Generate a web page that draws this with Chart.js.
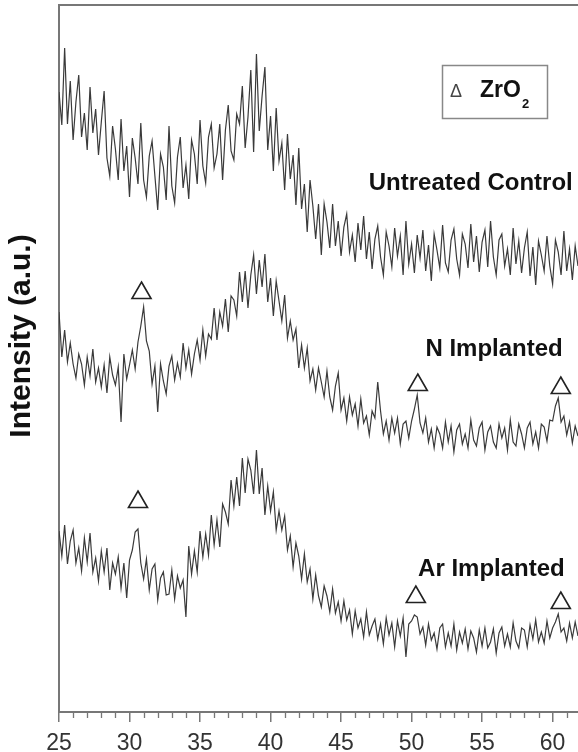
<!DOCTYPE html>
<html>
<head>
<meta charset="utf-8">
<script src="https://cdn.jsdelivr.net/npm/chart.js@4.4.1/dist/chart.umd.min.js"></script>
<style>
  html, body { margin: 0; padding: 0; background: #fff; }
  canvas { display: block; }
</style>
</head>
<body>
<canvas id="xrdChart" width="578" height="752"></canvas>
<script>
// 2-theta sampling grid of the scans (0.2 deg steps, 25 -> 61.8)
const twoTheta = [];
for (let i = 0; i < 185; i++) twoTheta.push(Math.round((25 + i * 0.2) * 10) / 10);

// intensities (a.u.), offsets already included
const untreated = [
  620, 587, 664, 588, 631, 572, 610, 637, 575, 599, 562, 625, 579, 603, 557, 590, 621, 554, 536, 586,
  563, 532, 593, 541, 566, 515, 574, 554, 528, 589, 532, 515, 556, 571, 536, 502, 558, 545, 512, 586,
  526, 509, 555, 575, 524, 547, 513, 572, 558, 528, 592, 546, 529, 575, 588, 544, 558, 588, 532, 582,
  607, 561, 552, 598, 588, 626, 564, 595, 642, 560, 658, 581, 616, 645, 562, 596, 541, 604, 551, 569,
  522, 578, 533, 557, 507, 564, 503, 528, 480, 532, 506, 473, 508, 457, 508, 490, 464, 508, 466, 491,
  456, 485, 498, 460, 477, 450, 489, 462, 496, 453, 480, 443, 473, 486, 455, 437, 480, 466, 445, 484,
  456, 476, 437, 491, 448, 468, 439, 477, 454, 482, 441, 467, 431, 478, 462, 444, 487, 449, 440, 472,
  483, 453, 437, 478, 468, 444, 488, 450, 476, 440, 470, 482, 445, 491, 455, 437, 472, 478, 446, 463,
  437, 484, 448, 471, 439, 464, 480, 436, 465, 427, 471, 457, 441, 476, 446, 428, 472, 460, 437, 481,
  441, 463, 432, 466, 446
];

const nImplanted = [
  400, 355, 382, 350, 369, 348, 334, 358, 348, 327, 355, 336, 363, 330, 344, 325, 347, 319, 355, 337,
  327, 345, 290, 358, 333, 347, 362, 343, 370, 386, 405, 371, 361, 328, 346, 300, 348, 331, 318, 346,
  356, 332, 349, 335, 369, 344, 362, 338, 358, 372, 352, 382, 356, 378, 373, 404, 372, 400, 386, 413,
  380, 416, 412, 396, 440, 410, 441, 404, 437, 457, 418, 452, 425, 458, 410, 434, 396, 431, 411, 391,
  417, 374, 391, 372, 383, 344, 367, 344, 364, 331, 343, 322, 344, 330, 315, 341, 315, 302, 326, 339,
  302, 314, 291, 315, 297, 308, 286, 313, 289, 296, 277, 301, 294, 330, 301, 278, 291, 272, 294, 279,
  294, 268, 288, 291, 274, 291, 303, 317, 289, 279, 294, 270, 283, 264, 285, 278, 264, 290, 270, 286,
  260, 282, 288, 268, 278, 264, 292, 272, 266, 284, 290, 262, 280, 286, 270, 264, 288, 274, 284, 262,
  292, 270, 266, 288, 278, 264, 284, 290, 268, 280, 264, 288, 285, 271, 292, 291, 306, 314, 290, 296,
  277, 290, 269, 286, 276
];

const arImplanted = [
  181, 156, 187, 148, 171, 182, 149, 164, 141, 174, 150, 179, 140, 154, 131, 161, 140, 164, 122, 149,
  138, 155, 124, 149, 114, 152, 162, 180, 183, 149, 133, 153, 122, 143, 148, 112, 134, 140, 117, 118,
  142, 113, 136, 124, 132, 95, 166, 138, 161, 140, 181, 155, 178, 157, 197, 167, 192, 165, 208, 200,
  188, 232, 206, 235, 206, 254, 219, 253, 242, 218, 262, 218, 244, 197, 226, 201, 220, 182, 201, 182,
  196, 162, 176, 145, 169, 156, 133, 158, 130, 143, 113, 137, 116, 105, 126, 116, 100, 123, 99, 110,
  91, 111, 92, 102, 78, 101, 84, 93, 75, 100, 77, 86, 93, 73, 88, 68, 94, 77, 89, 65,
  91, 76, 94, 55, 88, 91, 97, 95, 78, 85, 67, 88, 72, 79, 63, 84, 88, 65, 79, 66,
  88, 62, 80, 69, 83, 63, 81, 74, 60, 82, 66, 84, 64, 70, 83, 59, 79, 85, 66, 78,
  65, 89, 71, 64, 84, 82, 65, 87, 73, 92, 70, 80, 69, 91, 74, 84, 90, 98, 80, 84,
  71, 89, 74, 90, 76
];

// ZrO2 reflections (triangle markers)
const nPeakTheta = [30.85, 50.44, 60.58];
const nPeakLevel = [419, 327, 324];
const arPeakTheta = [30.6, 50.3, 60.58];
const arPeakLevel = [210, 115, 109];

// curve names, right-aligned at these positions
const curveNames = ['Untreated Control', 'N Implanted', 'Ar Implanted'];
const nameTheta = [61.43, 60.72, 60.86];
const nameLevel = [529, 363, 143];

const FONT = '"Liberation Sans", Arial, Helvetica, sans-serif';
const AXIS_GREY = '#777';

const toPoints = (vals) => vals.map((v, i) => ({ x: twoTheta[i], y: v }));
const toMarks = (xs, ys) => xs.map((v, i) => ({ x: v, y: ys[i] }));

const traceStyle = {
  borderColor: '#3a3a3a',
  borderWidth: 1.2,
  pointRadius: 0,
  tension: 0,
  fill: false
};
const markStyle = {
  showLine: false,
  pointStyle: 'triangle',
  pointRadius: 11,
  pointBackgroundColor: '#fff',
  pointBorderColor: '#222',
  pointBorderWidth: 1.6
};

// frame, minor ticks, curve names, y title and the ZrO2 key
const decorations = {
  id: 'decorations',
  afterDraw(chart) {
    const { ctx, chartArea: area, scales: { x, y } } = chart;
    ctx.save();

    ctx.strokeStyle = AXIS_GREY;
    ctx.lineWidth = 2;
    ctx.beginPath();
    ctx.moveTo(area.left - 1, area.top);
    ctx.lineTo(area.right, area.top);
    ctx.stroke();

    ctx.lineWidth = 1.3;
    ctx.beginPath();
    for (let v = 26; v <= 61; v++) {
      if (v % 5 === 0) continue;
      const px = Math.round(x.getPixelForValue(v)) + 0.5;
      ctx.moveTo(px, area.bottom);
      ctx.lineTo(px, area.bottom + 6);
    }
    ctx.stroke();

    ctx.fillStyle = '#111';
    ctx.font = 'bold 24px ' + FONT;
    ctx.textAlign = 'right';
    ctx.textBaseline = 'middle';
    curveNames.forEach((name, i) => {
      ctx.fillText(name, x.getPixelForValue(nameTheta[i]), y.getPixelForValue(nameLevel[i]));
    });

    ctx.save();
    ctx.translate(area.left - 37, 336);
    ctx.rotate(-Math.PI / 2);
    ctx.textAlign = 'center';
    ctx.font = 'bold 30px ' + FONT;
    ctx.fillText('Intensity (a.u.)', 0, 0);
    ctx.restore();

    // key box
    const bx = area.right - 136, by = area.top + 60;
    ctx.strokeStyle = '#888';
    ctx.lineWidth = 1.5;
    ctx.strokeRect(bx + 0.5, by + 0.5, 105, 53);
    ctx.textBaseline = 'alphabetic';
    ctx.textAlign = 'center';
    ctx.fillStyle = '#444';
    ctx.font = '18px ' + FONT;
    ctx.fillText('Δ', bx + 14, by + 32);
    ctx.textAlign = 'left';
    ctx.fillStyle = '#111';
    ctx.font = 'bold 23px ' + FONT;
    ctx.fillText('ZrO', bx + 38, by + 32);
    const w = ctx.measureText('ZrO').width;
    ctx.font = 'bold 13px ' + FONT;
    ctx.fillText('2', bx + 39 + w, by + 43);

    ctx.restore();
  }
};

new Chart(document.getElementById('xrdChart'), {
  type: 'line',
  data: {
    datasets: [
      { label: 'Untreated Control', data: toPoints(untreated), ...traceStyle },
      { label: 'N Implanted', data: toPoints(nImplanted), ...traceStyle },
      { label: 'Ar Implanted', data: toPoints(arImplanted), ...traceStyle },
      { label: 'ZrO2 (N)', data: toMarks(nPeakTheta, nPeakLevel), ...markStyle },
      { label: 'ZrO2 (Ar)', data: toMarks(arPeakTheta, arPeakLevel), ...markStyle }
    ]
  },
  options: {
    responsive: false,
    animation: false,
    devicePixelRatio: 1,
    // triangle markers would otherwise add auto padding round the plot
    layout: { autoPadding: false, padding: { top: 5, right: 0, left: 0, bottom: 0 } },
    plugins: {
      legend: { display: false },
      tooltip: { enabled: false }
    },
    scales: {
      x: {
        type: 'linear',
        min: 25,
        max: 61.8,
        ticks: {
          stepSize: 5,
          includeBounds: false,
          autoSkip: false,
          maxRotation: 0,
          padding: 8,
          color: '#333',
          font: { family: FONT, size: 23 }
        },
        grid: {
          display: true,
          drawOnChartArea: false,
          drawTicks: true,
          tickLength: 10,
          color: AXIS_GREY,
          lineWidth: 1.5
        },
        border: { display: true, color: AXIS_GREY, width: 2 },
        afterFit(scale) {
          scale.height = 40;
          scale.paddingLeft = 0;
          scale.paddingRight = 0;
        }
      },
      y: {
        min: 0,
        max: 707,
        ticks: { display: false },
        grid: { display: false, drawTicks: false },
        border: { display: true, color: AXIS_GREY, width: 2 },
        afterFit(scale) { scale.width = 59; }
      }
    }
  },
  plugins: [decorations]
});
</script>
</body>
</html>
